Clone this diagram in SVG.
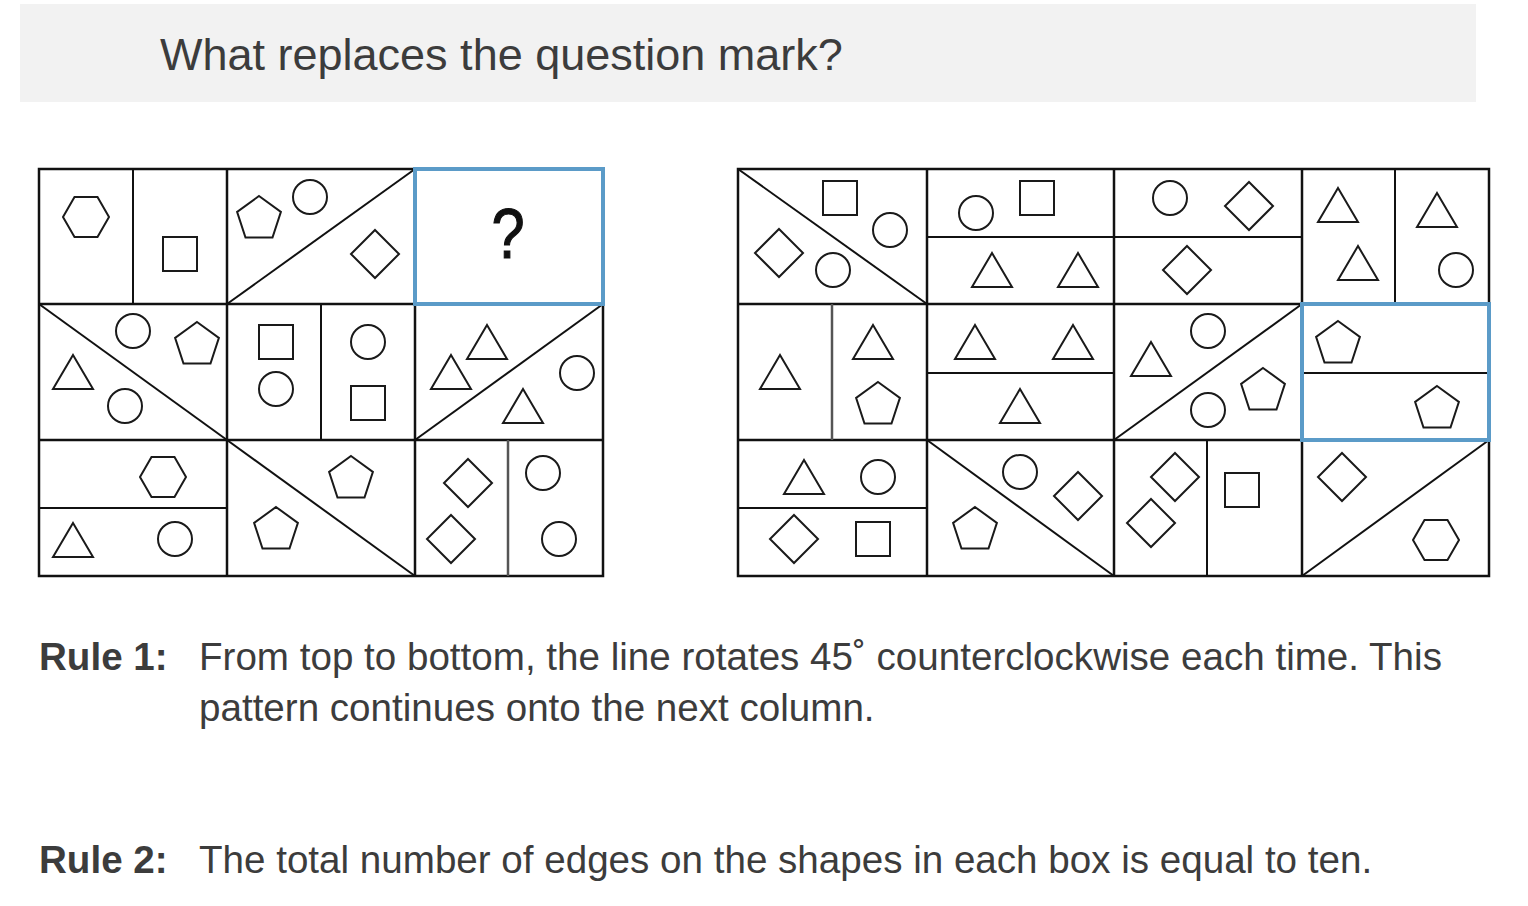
<svg xmlns="http://www.w3.org/2000/svg" xmlns:xlink="http://www.w3.org/1999/xlink" width="1528" height="906" viewBox="0 0 1528 906">
<style>
.grid{fill:none;stroke:#111;stroke-width:2.5}
.div{fill:none;stroke:#111;stroke-width:2}
.gdiv{fill:none;stroke:#555;stroke-width:2.5}
.sh{fill:none;stroke:#1a1a1a;stroke-width:2}
.blue{fill:none;stroke:#5b9bc8;stroke-width:4}
.t{font-family:"Liberation Sans",Arial,sans-serif;fill:#3c3c3c}
</style>
<defs>
<polygon id="hex" class="sh" points="-23,0 -11.5,-19.9 11.5,-19.9 23,0 11.5,19.9 -11.5,19.9"/>
<polygon id="pent" class="sh" points="0,-23 21.9,-7.1 13.5,18.6 -13.5,18.6 -21.9,-7.1"/>
<polygon id="tri" class="sh" points="0,-17 20,17 -20,17"/>
<polygon id="dia" class="sh" points="0,-24 24,0 0,24 -24,0"/>
<rect id="sq" class="sh" x="-17" y="-17" width="34" height="34"/>
<circle id="cir" class="sh" r="17"/>
</defs>

<g id="header">
<rect x="20" y="4" width="1456" height="98" fill="#f2f2f2"/>
<text class="t" x="160" y="70" font-size="45">What replaces the question mark?</text>
</g>

<g id="left-grid">
<g id="L-frame">
<rect class="grid" x="39" y="169" width="564" height="407"/>
<line class="grid" x1="39" y1="304" x2="603" y2="304"/>
<line class="grid" x1="39" y1="440" x2="603" y2="440"/>
<line class="grid" x1="227" y1="169" x2="227" y2="576"/>
<line class="grid" x1="415" y1="169" x2="415" y2="576"/>
</g>
<g id="L-r0c0">
<line class="div" x1="133" y1="169" x2="133" y2="304"/>
<use href="#hex" x="86" y="217"/>
<use href="#sq" x="180" y="254"/>
</g>
<g id="L-r0c1">
<line class="div" x1="227" y1="304" x2="415" y2="169"/>
<use href="#pent" x="259" y="219"/>
<use href="#cir" x="310" y="197"/>
<use href="#dia" x="375" y="254"/>
</g>
<g id="L-r1c0">
<line class="div" x1="39" y1="304" x2="227" y2="440"/>
<use href="#cir" x="133" y="331"/>
<use href="#pent" x="197" y="345"/>
<use href="#tri" x="73" y="372"/>
<use href="#cir" x="125" y="406"/>
</g>
<g id="L-r1c1">
<line class="div" x1="321" y1="304" x2="321" y2="440"/>
<use href="#sq" x="276" y="342"/>
<use href="#cir" x="276" y="389"/>
<use href="#cir" x="368" y="342"/>
<use href="#sq" x="368" y="403"/>
</g>
<g id="L-r1c2">
<line class="div" x1="415" y1="440" x2="603" y2="304"/>
<use href="#tri" x="487" y="342"/>
<use href="#tri" x="451" y="372"/>
<use href="#cir" x="577" y="373"/>
<use href="#tri" x="523" y="406"/>
</g>
<g id="L-r2c0">
<line class="div" x1="39" y1="508" x2="227" y2="508"/>
<use href="#hex" x="163" y="477"/>
<use href="#tri" x="73" y="540"/>
<use href="#cir" x="175" y="539"/>
</g>
<g id="L-r2c1">
<line class="div" x1="227" y1="440" x2="415" y2="576"/>
<use href="#pent" x="351" y="479"/>
<use href="#pent" x="276" y="530"/>
</g>
<g id="L-r2c2">
<line class="gdiv" x1="508" y1="440" x2="508" y2="576"/>
<use href="#dia" x="468" y="483"/>
<use href="#dia" x="451" y="539"/>
<use href="#cir" x="543" y="473"/>
<use href="#cir" x="559" y="539"/>
</g>
<g id="L-r0c2">
<rect class="blue" x="415" y="169" width="188" height="135"/>
<text x="508" y="258" font-family="Liberation Sans, Arial, sans-serif" font-size="70" text-anchor="middle" fill="#111" stroke="#111" stroke-width="1.2" transform="translate(508 0) scale(0.85 1) translate(-508 0)">?</text>
</g>
</g>

<g id="right-grid">
<g id="R-frame">
<rect class="grid" x="738" y="169" width="751" height="407"/>
<line class="grid" x1="738" y1="304" x2="1489" y2="304"/>
<line class="grid" x1="738" y1="440" x2="1489" y2="440"/>
<line class="grid" x1="927" y1="169" x2="927" y2="576"/>
<line class="grid" x1="1114" y1="169" x2="1114" y2="576"/>
<line class="grid" x1="1302" y1="169" x2="1302" y2="576"/>
</g>
<g id="R-r0c0">
<line class="div" x1="738" y1="169" x2="927" y2="304"/>
<use href="#sq" x="840" y="198"/>
<use href="#cir" x="890" y="230"/>
<use href="#dia" x="779" y="253"/>
<use href="#cir" x="833" y="270"/>
</g>
<g id="R-r0c1">
<line class="div" x1="927" y1="237" x2="1114" y2="237"/>
<use href="#cir" x="976" y="213"/>
<use href="#sq" x="1037" y="198"/>
<use href="#tri" x="992" y="270"/>
<use href="#tri" x="1078" y="270"/>
</g>
<g id="R-r0c2">
<line class="div" x1="1114" y1="237" x2="1302" y2="237"/>
<use href="#cir" x="1170" y="198"/>
<use href="#dia" x="1249" y="206"/>
<use href="#dia" x="1187" y="270"/>
</g>
<g id="R-r0c3">
<line class="div" x1="1395" y1="169" x2="1395" y2="304"/>
<use href="#tri" x="1338" y="205"/>
<use href="#tri" x="1358" y="263"/>
<use href="#tri" x="1437" y="210"/>
<use href="#cir" x="1456" y="270"/>
</g>
<g id="R-r1c0">
<line class="gdiv" x1="832" y1="304" x2="832" y2="440"/>
<use href="#tri" x="780" y="372"/>
<use href="#tri" x="873" y="342"/>
<use href="#pent" x="878" y="405"/>
</g>
<g id="R-r1c1">
<line class="div" x1="927" y1="373" x2="1114" y2="373"/>
<use href="#tri" x="975" y="342"/>
<use href="#tri" x="1073" y="342"/>
<use href="#tri" x="1020" y="406"/>
</g>
<g id="R-r1c2">
<line class="div" x1="1114" y1="440" x2="1302" y2="304"/>
<use href="#tri" x="1151" y="359"/>
<use href="#cir" x="1208" y="331"/>
<use href="#cir" x="1208" y="410"/>
<use href="#pent" x="1263" y="391"/>
</g>
<g id="R-r2c0">
<line class="div" x1="738" y1="508" x2="927" y2="508"/>
<use href="#tri" x="804" y="477"/>
<use href="#cir" x="878" y="477"/>
<use href="#dia" x="794" y="539"/>
<use href="#sq" x="873" y="539"/>
</g>
<g id="R-r2c1">
<line class="div" x1="927" y1="440" x2="1114" y2="576"/>
<use href="#cir" x="1020" y="472"/>
<use href="#dia" x="1078" y="496"/>
<use href="#pent" x="975" y="530"/>
</g>
<g id="R-r2c2">
<line class="div" x1="1207" y1="440" x2="1207" y2="576"/>
<use href="#dia" x="1175" y="477"/>
<use href="#dia" x="1151" y="523"/>
<use href="#sq" x="1242" y="490"/>
</g>
<g id="R-r2c3">
<line class="div" x1="1302" y1="576" x2="1489" y2="440"/>
<use href="#dia" x="1342" y="477"/>
<use href="#hex" x="1436" y="540"/>
</g>
<g id="R-r1c3">
<line class="div" x1="1302" y1="373" x2="1489" y2="373"/>
<use href="#pent" x="1338" y="344"/>
<use href="#pent" x="1437" y="409"/>
<rect class="blue" x="1302" y="304" width="187" height="136"/>
</g>
</g>

<g id="rules">
<text class="t" x="39" y="670" font-size="38.6" font-weight="bold">Rule 1:</text>
<text class="t" x="199" y="670" font-size="38.6">From top to bottom, the line rotates 45˚ counterclockwise each time. This</text>
<text class="t" x="199" y="721" font-size="38.6">pattern continues onto the next column.</text>
<text class="t" x="39" y="873" font-size="38.6" font-weight="bold">Rule 2:</text>
<text class="t" x="199" y="873" font-size="38.6">The total number of edges on the shapes in each box is equal to ten.</text>
</g>

<g id="connectors"/>
</svg>
